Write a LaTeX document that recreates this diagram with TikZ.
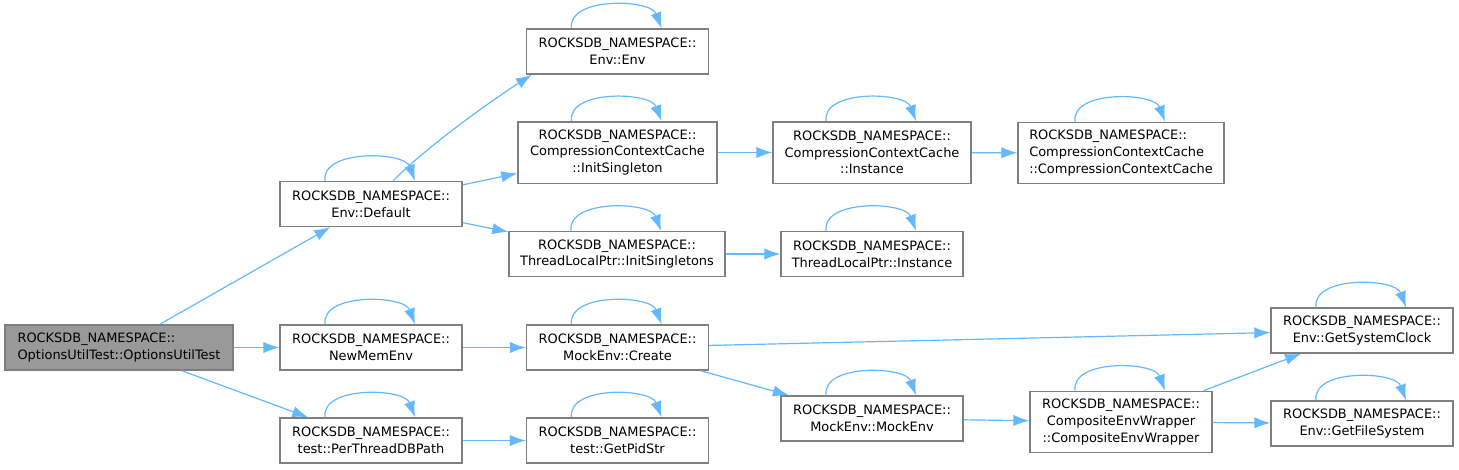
\documentclass[tikz,border=0pt]{standalone}
\usepackage{fontspec}
\setmainfont{DejaVu Sans}
\usetikzlibrary{arrows.meta}
\definecolor{edgeblue}{HTML}{63B8FF}
\definecolor{boxgray}{HTML}{7F7F7F}
\definecolor{rootgray}{HTML}{999999}
\newcommand{\nsname}{ROCKSDB\_NAMESPACE::}

\begin{document}
\begin{tikzpicture}[x=0.75pt, y=-0.75pt, font=\fontsize{9.7pt}{12.5pt}\selectfont,
    fn/.style={draw=boxgray, line width=1pt, fill=white, inner sep=0pt, align=center,
      minimum width=136.5pt, minimum height=33.75pt},
    tall/.style={fn, minimum height=46pt},
    root/.style={fn, fill=rootgray, align=left, minimum width=171pt},
    edge/.style={draw=edgeblue, line width=0.9pt, -{Latex[length=12pt, width=8.5pt]}}]
    \useasboundingbox (0,0) rectangle (1459,469);
    % ---------------- caller and first level
    \node[root] (root) at (119,347.5) {\nsname\\OptionsUtilTest::OptionsUtilTest};
    \node[fn] (dflt) at (371,204) {\nsname\\Env::Default};
    \node[fn] (newmem) at (371,347.5) {\nsname\\NewMemEnv};
    \node[fn] (dbpath) at (371,440.5) {\nsname\\test::PerThreadDBPath};
    % ---------------- second level
    \node[fn] (envenv) at (617.5,51.5) {\nsname\\Env::Env};
    \node[tall, minimum width=149.25pt] (ccinit) at (617.5,152.5) {\nsname\\CompressionContextCache\\::InitSingleton};
    \node[fn, minimum width=162pt] (tlinit) at (617,254) {\nsname\\ThreadLocalPtr::InitSingletons};
    \node[fn] (create) at (617.5,347.5) {\nsname\\MockEnv::Create};
    \node[fn] (pidstr) at (617.5,440.5) {\nsname\\test::GetPidStr};
    % ---------------- third level and beyond
    \node[tall, minimum width=148.5pt] (ccinst) at (872,152.5) {\nsname\\CompressionContextCache\\::Instance};
    \node[fn] (tlinst) at (872,254) {\nsname\\ThreadLocalPtr::Instance};
    \node[fn] (mockenv) at (872,418.5) {\nsname\\MockEnv::MockEnv};
    \node[tall, minimum width=154.5pt, align=left] (ccctor) at (1121,153) {\nsname\\CompressionContextCache\\::CompressionContextCache};
    \node[tall] (wrapper) at (1121,422) {\nsname\\CompositeEnvWrapper\\::CompositeEnvWrapper};
    \node[fn] (clock) at (1362,330.5) {\nsname\\Env::GetSystemClock};
    \node[fn] (filesys) at (1362,423.5) {\nsname\\Env::GetFileSystem};
    % calls
    \draw[edge] (root) -- (dflt);
    \draw[edge] (root) -- (newmem);
    \draw[edge] (root) -- (dbpath);
    \draw[edge] ([xshift=16.5pt]dflt.north) .. controls +(28pt,28pt) and +(-28pt,-18pt) .. ([xshift=4.5pt]envenv.south west);
    \draw[edge] (dflt) -- (ccinit);
    \draw[edge] (dflt) -- (tlinit);
    \draw[edge] (ccinit) -- (ccinst);
    \draw[edge] (ccinst) -- (ccctor);
    \draw[edge] (tlinit) -- (tlinst);
    \draw[edge] (newmem) -- (create);
    \draw[edge] (dbpath) -- (pidstr);
    \draw[edge] (create) -- (clock);
    \draw[edge] (create) -- (mockenv);
    \draw[edge] (mockenv) -- (wrapper);
    \draw[edge] (wrapper) -- (clock);
    \draw[edge] (wrapper) -- (filesys);
    % recursive calls
    \foreach \n in {dflt, newmem, dbpath, envenv, ccinit, tlinit, create, pidstr, ccinst, tlinst, mockenv, ccctor, wrapper, clock, filesys}
      \draw[edge] ([xshift=-34.5pt]\n.north) .. controls +(-3pt,24pt) and +(-8pt,22pt) .. ([xshift=33pt]\n.north);
\end{tikzpicture}
\end{document}
